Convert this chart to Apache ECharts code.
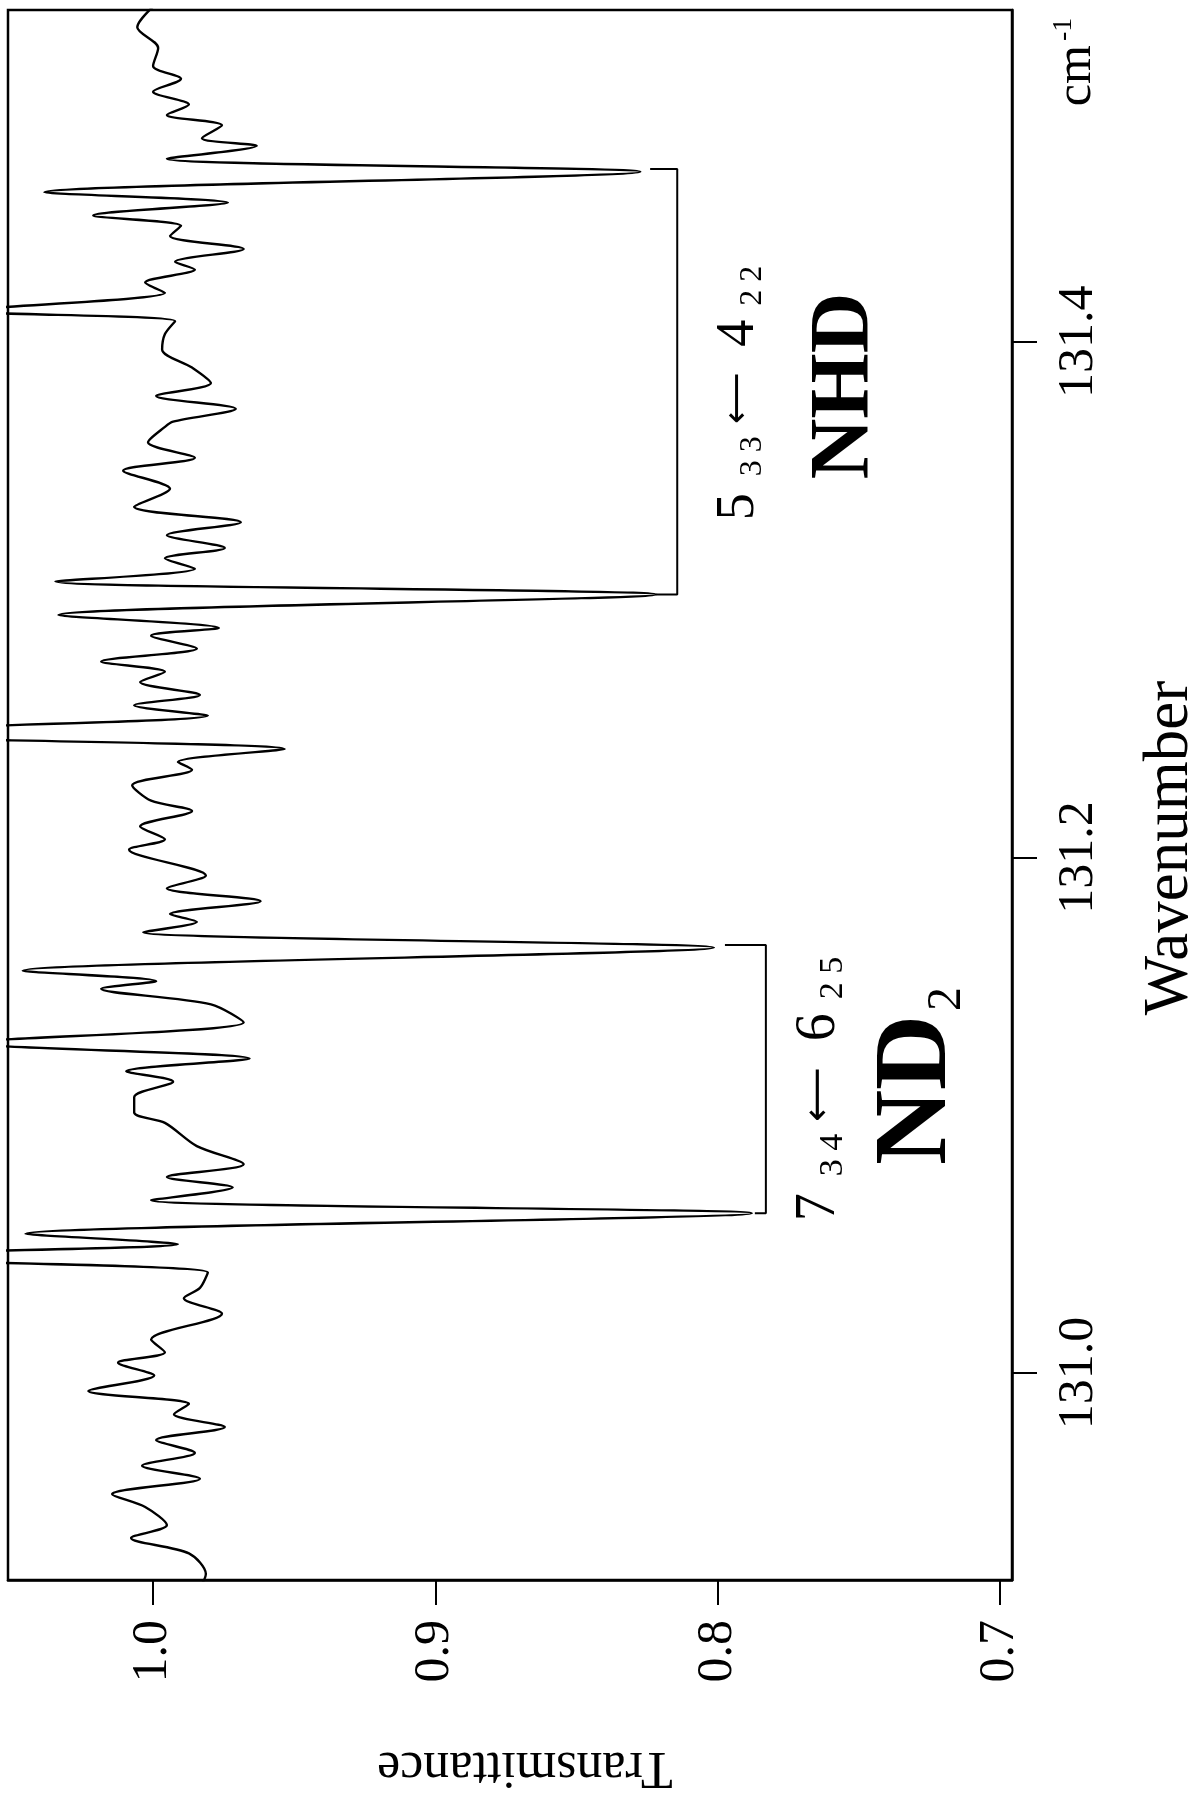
<!DOCTYPE html>
<html><head><meta charset="utf-8">
<script src="https://cdn.jsdelivr.net/npm/echarts@6/dist/echarts.min.js"></script>
<style>html,body{margin:0;padding:0;background:#fff}#c{width:1191px;height:1795px}</style>
</head><body><div id="c"></div>
<script>
// Spectrum trace (high wavenumber first)
const wavenumber = [131.530,131.522,131.514,131.507,131.502,131.497,131.492,131.488,131.484,131.479,
131.476,131.471,131.466,131.458,131.454,131.449,131.445,131.441,131.436,131.431,
131.428,131.423,131.419,131.412,131.408,131.403,131.397,131.390,131.384,131.379,
131.374,131.369,131.367,131.361,131.355,131.350,131.343,131.336,131.330,131.325,
131.320,131.316,131.312,131.307,131.302,131.294,131.289,131.286,131.281,131.276,
131.272,131.268,131.263,131.259,131.255,131.248,131.242,131.237,131.234,131.228,
131.222,131.218,131.212,131.207,131.203,131.193,131.188,131.183,131.178,131.175,
131.171,131.165,131.156,131.152,131.149,131.143,131.136,131.128,131.122,131.117,
131.113,131.107,131.101,131.097,131.088,131.081,131.076,131.072,131.067,131.062,
131.054,131.050,131.045,131.039,131.033,131.029,131.023,131.013,131.008,131.004,
130.999,130.993,130.988,130.984,130.979,130.974,130.969,130.964,130.959,130.953,
130.948,130.941,130.936,130.930,130.922,130.915];
const transmittance = [1.000,1.0056,0.9982,1.000,0.9901,1.000,0.9873,0.9951,0.9756,0.9827,
0.9633,0.9951,0.8274,1.0385,0.9735,1.0212,0.9901,0.9940,0.9679,0.9922,
0.9852,1.0028,0.9958,1.065,0.9922,0.9958,0.9968,0.9862,0.9795,0.9989,
0.9707,0.9929,0.9958,1.0018,0.9852,1.0106,0.9940,1.0067,0.9689,0.9951,
0.9746,0.9958,0.9852,1.0346,0.8217,1.0335,0.9767,1.0007,0.9845,1.0184,
0.9958,1.0046,0.9834,1.0067,0.9806,1.13,0.9534,0.9912,0.9862,1.0074,
1.0007,0.9862,1.0046,0.9958,1.0085,0.9813,0.9951,0.9619,0.9940,0.9845,
1.0035,0.8013,1.0462,0.9989,1.0184,0.9795,0.9679,1.064,0.9658,1.0095,
0.9929,1.0067,1.0067,0.9958,0.9845,0.9679,0.9951,0.9718,1.0007,0.7879,
1.0452,0.9912,1.122,0.9806,0.9834,0.9891,0.9756,1.0007,0.9958,1.0124,
0.9996,1.0229,0.9873,0.9926,0.9746,0.9989,0.9852,1.0039,0.9834,1.0145,
1.0028,0.9951,1.0078,0.9873,0.9813,0.9845];

// Assignment brackets (transmittance, wavenumber)
const nhdBracketT = [0.8239,0.8143,0.8143,0.8217];
const nhdBracketW = [131.467,131.467,131.302,131.302];
const nd2BracketT = [0.7974,0.7829,0.7829,0.7868];
const nd2BracketW = [131.166,131.166,131.062,131.062];

// Axis ticks
const wavenumberTicks = [131.0, 131.2, 131.4];
const transmittanceTicks = [1.0, 0.9, 0.8, 0.7];

const zip = (a, b) => a.map((v, i) => [v, b[i]]);
const FONT = 'Liberation Serif';

const chart = echarts.init(document.getElementById('c'), null, {renderer: 'canvas'});
chart.setOption({
  animation: false,
  backgroundColor: '#fff',
  grid: {left: 8, top: 10, width: 1004, height: 1570, show: true, borderColor: '#000', borderWidth: 2.5, containLabel: false},
  xAxis: {
    type: 'value', min: 0.6957, max: 1.0514, inverse: true, position: 'bottom',
    axisLine: {show: true, lineStyle: {color: '#000', width: 2.5}},
    axisTick: {show: true, customValues: transmittanceTicks, length: 25, lineStyle: {color: '#000', width: 2}},
    axisLabel: {show: true, customValues: transmittanceTicks, rotate: 90, margin: 40, fontSize: 50, fontFamily: FONT, color: '#000', formatter: v => v.toFixed(1)},
    splitLine: {show: false}
  },
  yAxis: {
    type: 'value', min: 130.9197, max: 131.5287, position: 'right',
    axisLine: {show: true, lineStyle: {color: '#000', width: 2.5}},
    axisTick: {show: true, customValues: wavenumberTicks, length: 25, lineStyle: {color: '#000', width: 2}},
    axisLabel: {show: true, customValues: wavenumberTicks, rotate: 90, margin: 42, fontSize: 50, fontFamily: FONT, color: '#000', formatter: v => v.toFixed(1)},
    splitLine: {show: false}
  },
  series: [
    {type: 'line', data: zip(transmittance, wavenumber), showSymbol: false, smooth: 0.3, clip: true,
     lineStyle: {color: '#000', width: 2.4}},
    {type: 'line', data: zip(nhdBracketT, nhdBracketW), showSymbol: false, clip: true,
     lineStyle: {color: '#000', width: 2}},
    {type: 'line', data: zip(nd2BracketT, nd2BracketW), showSymbol: false, clip: true,
     lineStyle: {color: '#000', width: 2}}
  ],
  graphic: [
    {type: 'text', x: 1170, y: 848, rotation: Math.PI / 2,
     style: {text: 'Wavenumber', font: '63px "Liberation Serif"', fill: '#000', align: 'center', verticalAlign: 'middle'}},
    {type: 'text', x: 525, y: 1767, rotation: Math.PI,
     style: {text: 'Transmittance', font: '52px "Liberation Serif"', fill: '#000', align: 'center', verticalAlign: 'middle'}},
    {type: 'text', x: 1077, y: 62, rotation: Math.PI / 2,
     style: {text: '{m|cm}{s|-1}', align: 'center', verticalAlign: 'middle', fill: '#000',
       rich: {m: {fontSize: 50, fontFamily: FONT, lineHeight: 54, verticalAlign: 'middle'},
              s: {fontSize: 28, fontFamily: FONT, lineHeight: 28, verticalAlign: 'top', padding: [0, 0, 0, 4]}}}},
    {type: 'text', x: 739, y: 393, rotation: Math.PI / 2,
     style: {text: '{d|5}{s|3 3}{a|⟵}{d|4}{t|2 2}', align: 'center', verticalAlign: 'middle', fill: '#000',
       rich: {d: {fontSize: 54, fontFamily: FONT, lineHeight: 60, verticalAlign: 'middle'},
              s: {fontSize: 32, fontFamily: FONT, lineHeight: 32, verticalAlign: 'bottom', padding: [0, 12, 0, 17]},
              a: {fontSize: 36, fontFamily: 'DejaVu Sans', lineHeight: 60, verticalAlign: 'middle', padding: [0, 26, 0, 0]},
              t: {fontSize: 32, fontFamily: FONT, lineHeight: 32, verticalAlign: 'bottom', padding: [0, 0, 0, 14]}}}},
    {type: 'text', x: 846, y: 386, rotation: Math.PI / 2,
     style: {text: 'NHD', font: 'bold 84px "Liberation Serif"', fill: '#000', align: 'center', verticalAlign: 'middle'}},
    {type: 'text', x: 819, y: 1089, rotation: Math.PI / 2,
     style: {text: '{d|7}{s|3 4}{a|⟵}{d|6}{t|2 5}', align: 'center', verticalAlign: 'middle', fill: '#000',
       rich: {d: {fontSize: 56, fontFamily: FONT, lineHeight: 62, verticalAlign: 'middle'},
              s: {fontSize: 34, fontFamily: FONT, lineHeight: 34, verticalAlign: 'bottom', padding: [0, 12, 0, 17]},
              a: {fontSize: 38, fontFamily: 'DejaVu Sans', lineHeight: 62, verticalAlign: 'middle', padding: [0, 26, 0, 0]},
              t: {fontSize: 34, fontFamily: FONT, lineHeight: 34, verticalAlign: 'bottom', padding: [0, 0, 0, 14]}}}},
    {type: 'text', x: 918, y: 1076, rotation: Math.PI / 2,
     style: {text: '{b|ND}{s|2}', align: 'center', verticalAlign: 'middle', fill: '#000',
       rich: {b: {fontSize: 104, fontFamily: FONT, fontWeight: 'bold', lineHeight: 106, verticalAlign: 'middle'},
              s: {fontSize: 48, fontFamily: FONT, lineHeight: 48, verticalAlign: 'bottom', padding: [0, 0, 0, 4]}}}}
  ]
});
</script>
</body></html>
